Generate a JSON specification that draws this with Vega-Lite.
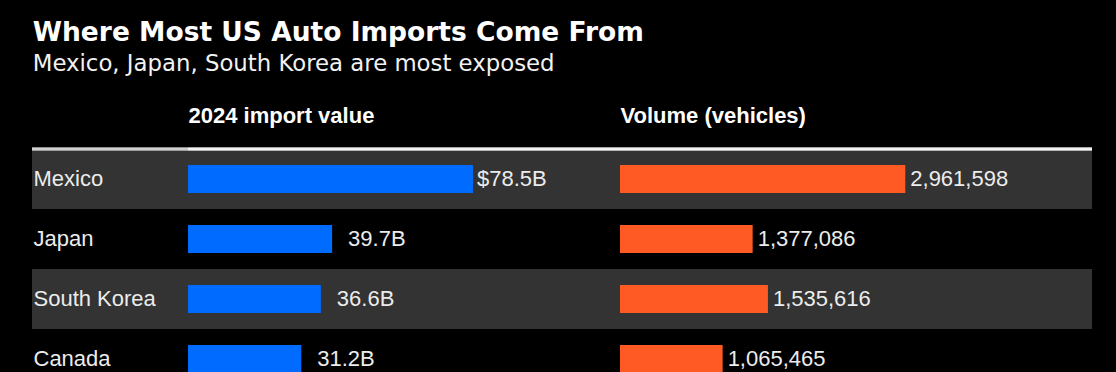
{
  "$schema": "https://vega.github.io/schema/vega-lite/v6.json",
  "background": "#000000",
  "padding": {"left": 30, "top": 19, "right": 26, "bottom": 0},
  "bounds": "flush",
  "title": {
    "text": "Where Most US Auto Imports Come From",
    "subtitle": "Mexico, Japan, South Korea are most exposed",
    "anchor": "start",
    "dx": 2,
    "font": "DejaVu Sans",
    "fontSize": 26.5,
    "fontWeight": "bold",
    "color": "#ffffff",
    "subtitleFont": "DejaVu Sans",
    "subtitleFontSize": 22.8,
    "subtitleColor": "#f2f2f2",
    "subtitlePadding": 7,
    "offset": 28
  },
  "data": {
    "values": [
      {"country": "Mexico", "value": 78.5, "volume": 2961598},
      {"country": "Japan", "value": 39.7, "volume": 1377086},
      {"country": "South Korea", "value": 36.6, "volume": 1535616},
      {"country": "Canada", "value": 31.2, "volume": 1065465}
    ]
  },
  "transform": [
    {"calculate": "(datum.country === 'Mexico' ? '$' : '') + format(datum.value, '.1f') + 'B'", "as": "vlabel"},
    {"calculate": "format(datum.volume, ',')", "as": "olabel"}
  ],
  "spacing": 0,
  "config": {
    "view": {"stroke": null},
    "concat": {"spacing": 0},
    "text": {"font": "Liberation Sans", "fontSize": 22, "color": "#ececec"}
  },
  "hconcat": [
    {
      "width": 156,
      "height": 240,
      "layer": [
        {
          "transform": [{"filter": "datum.country === 'Mexico' || datum.country === 'South Korea'"}],
          "mark": {"type": "rect", "color": "#333333"},
          "encoding": {
            "y": {
              "field": "country", "type": "nominal", "sort": null,
              "scale": {"domain": ["Mexico", "Japan", "South Korea", "Canada"], "paddingInner": 0, "paddingOuter": 0},
              "axis": {"orient": "left", "title": null, "ticks": false, "domain": false, "labelPadding": -1, "labelAlign": "left", "labelFont": "Liberation Sans", "labelFontSize": 22, "labelColor": "#ececec"}
            }
          }
        },
        {
          "mark": {"type": "rule", "color": "#d0d0d0", "strokeWidth": 2.5},
          "encoding": {
            "y": {"datum": "Mexico", "type": "nominal", "bandPosition": 0}
          }
        }
      ]
    },
    {
      "width": 432,
      "height": 240,
      "layer": [
        {
          "transform": [{"filter": "datum.country === 'Mexico' || datum.country === 'South Korea'"}],
          "mark": {"type": "rect", "color": "#333333"},
          "encoding": {
            "y": {"field": "country", "type": "nominal", "sort": null,
              "scale": {"domain": ["Mexico", "Japan", "South Korea", "Canada"], "paddingInner": 0, "paddingOuter": 0}, "axis": null}
          }
        },
        {
          "mark": {"type": "rule", "color": "#f2f2f2", "strokeWidth": 2.5},
          "encoding": {
            "y": {"datum": "Mexico", "type": "nominal", "bandPosition": 0}
          }
        },
        {
          "mark": {"type": "bar", "color": "#006cff", "height": {"band": 0.47}},
          "encoding": {
            "y": {"field": "country", "type": "nominal", "sort": null},
            "x": {"field": "value", "type": "quantitative", "scale": {"domain": [0, 119], "nice": false},
              "axis": {"orient": "top", "title": "2024 import value", "labels": false, "ticks": false, "domain": false, "grid": false, "titleAnchor": "start", "titleAlign": "left", "titleBaseline": "alphabetic", "titlePadding": 27, "titleFont": "Liberation Sans", "titleFontSize": 22, "titleFontWeight": "bold", "titleColor": "#ffffff"}}
          }
        },
        {
          "transform": [{"filter": "datum.country === 'Mexico'"}],
          "mark": {"type": "text", "align": "left", "baseline": "middle", "dx": 4},
          "encoding": {
            "y": {"field": "country", "type": "nominal", "sort": null},
            "x": {"field": "value", "type": "quantitative",
              "axis": {"orient": "top", "title": "2024 import value", "labels": false, "ticks": false, "domain": false, "grid": false, "titleAnchor": "start", "titleAlign": "left", "titleBaseline": "alphabetic", "titlePadding": 27, "titleFont": "Liberation Sans", "titleFontSize": 22, "titleFontWeight": "bold", "titleColor": "#ffffff"}},
            "text": {"field": "vlabel"}
          }
        },
        {
          "transform": [{"filter": "datum.country !== 'Mexico'"}],
          "mark": {"type": "text", "align": "left", "baseline": "middle", "dx": 16},
          "encoding": {
            "y": {"field": "country", "type": "nominal", "sort": null},
            "x": {"field": "value", "type": "quantitative",
              "axis": {"orient": "top", "title": "2024 import value", "labels": false, "ticks": false, "domain": false, "grid": false, "titleAnchor": "start", "titleAlign": "left", "titleBaseline": "alphabetic", "titlePadding": 27, "titleFont": "Liberation Sans", "titleFontSize": 22, "titleFontWeight": "bold", "titleColor": "#ffffff"}},
            "text": {"field": "vlabel"}
          }
        }
      ]
    },
    {
      "width": 472,
      "height": 240,
      "layer": [
        {
          "transform": [{"filter": "datum.country === 'Mexico' || datum.country === 'South Korea'"}],
          "mark": {"type": "rect", "color": "#333333"},
          "encoding": {
            "y": {"field": "country", "type": "nominal", "sort": null,
              "scale": {"domain": ["Mexico", "Japan", "South Korea", "Canada"], "paddingInner": 0, "paddingOuter": 0}, "axis": null}
          }
        },
        {
          "mark": {"type": "rule", "color": "#f2f2f2", "strokeWidth": 2.5},
          "encoding": {
            "y": {"datum": "Mexico", "type": "nominal", "bandPosition": 0}
          }
        },
        {
          "mark": {"type": "bar", "color": "#ff5a23", "height": {"band": 0.47}},
          "encoding": {
            "y": {"field": "country", "type": "nominal", "sort": null},
            "x": {"field": "volume", "type": "quantitative", "scale": {"domain": [0, 4900000], "nice": false},
              "axis": {"orient": "top", "title": "Volume (vehicles)", "labels": false, "ticks": false, "domain": false, "grid": false, "titleAnchor": "start", "titleAlign": "left", "titleBaseline": "alphabetic", "titlePadding": 27, "titleFont": "Liberation Sans", "titleFontSize": 22, "titleFontWeight": "bold", "titleColor": "#ffffff"}}
          }
        },
        {
          "mark": {"type": "text", "align": "left", "baseline": "middle", "dx": 5},
          "encoding": {
            "y": {"field": "country", "type": "nominal", "sort": null},
            "x": {"field": "volume", "type": "quantitative",
              "axis": {"orient": "top", "title": "Volume (vehicles)", "labels": false, "ticks": false, "domain": false, "grid": false, "titleAnchor": "start", "titleAlign": "left", "titleBaseline": "alphabetic", "titlePadding": 27, "titleFont": "Liberation Sans", "titleFontSize": 22, "titleFontWeight": "bold", "titleColor": "#ffffff"}},
            "text": {"field": "olabel"}
          }
        }
      ]
    }
  ]
}
